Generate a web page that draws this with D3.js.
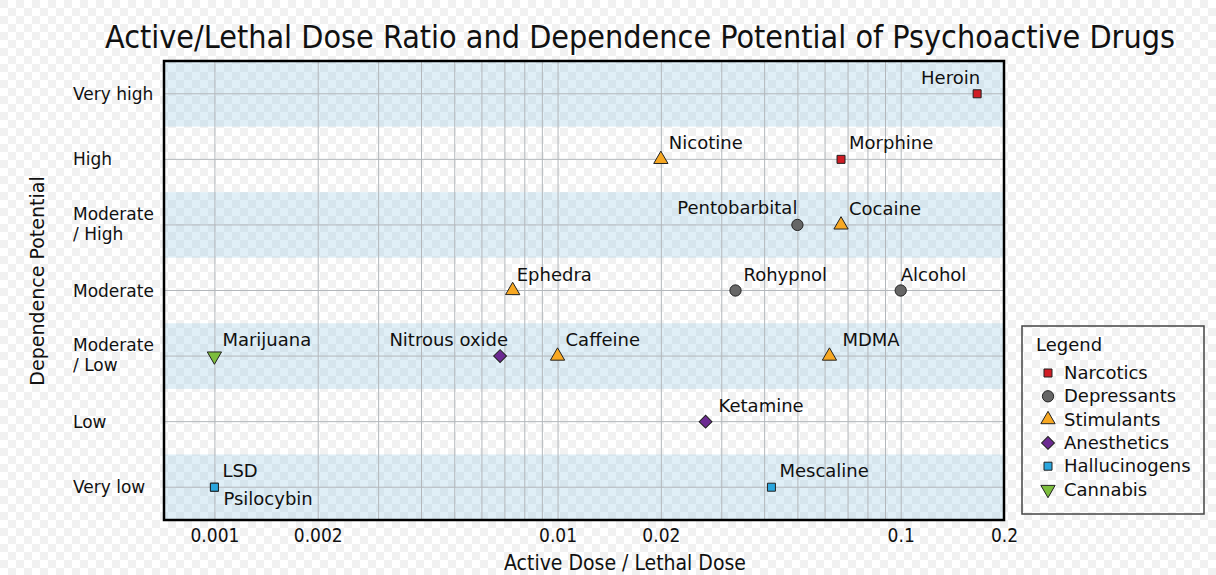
<!DOCTYPE html>
<html>
<head>
<meta charset="utf-8">
<script src="https://cdn.jsdelivr.net/npm/d3@7"></script>
<style>
  body { margin: 0; background: #fff; }
  text { font-family: "DejaVu Sans", sans-serif; fill: #111; }
  .cond { font-family: "DejaVu Sans Condensed", "DejaVu Sans", sans-serif; font-stretch: condensed; }
</style>
</head>
<body>
<div class="chart"></div>
<script>
var svgWidth = 1216;
var svgHeight = 575;

// chart data
var levels = ["Very high", "High", "Moderate / High", "Moderate", "Moderate / Low", "Low", "Very low"];
var classNames = ["Narcotics", "Depressants", "Stimulants", "Anesthetics", "Hallucinogens", "Cannabis"];
var tickLabels = [0.001, 0.002, 0.01, 0.02, 0.1, 0.2];

var drugs = ["Heroin", "Morphine", "Nicotine", "Pentobarbital", "Cocaine", "Ephedra", "Rohypnol", "Alcohol",
  "Marijuana", "Nitrous oxide", "Caffeine", "MDMA", "Ketamine", "LSD", "Psilocybin", "Mescaline"];
var ratios = [0.167, 0.067, 0.02, 0.05, 0.067, 0.0074, 0.033, 0.1,
  0.001, 0.0068, 0.01, 0.062, 0.027, 0.001, 0.001, 0.042];
var dependence = ["Very high", "High", "High", "Moderate / High", "Moderate / High", "Moderate", "Moderate", "Moderate",
  "Moderate / Low", "Moderate / Low", "Moderate / Low", "Moderate / Low", "Low", "Very low", "Very low", "Very low"];
var drugClass = ["Narcotics", "Narcotics", "Stimulants", "Depressants", "Stimulants", "Stimulants", "Depressants", "Depressants",
  "Cannabis", "Anesthetics", "Stimulants", "Stimulants", "Anesthetics", "Hallucinogens", "Hallucinogens", "Hallucinogens"];

// look of each class
var classColor = {
  Narcotics: "#d01c24", Depressants: "#666666", Stimulants: "#f7a823",
  Anesthetics: "#6c2a92", Hallucinogens: "#2aa6de", Cannabis: "#7cbd3c"
};
var classSymbol = {
  Narcotics: { type: d3.symbolSquare, size: 64, rot: 0 },
  Depressants: { type: d3.symbolCircle, size: 100, rot: 0 },
  Stimulants: { type: d3.symbolTriangle, size: 88, rot: 0 },
  Anesthetics: { type: d3.symbolSquare, size: 82, rot: 45 },
  Hallucinogens: { type: d3.symbolSquare, size: 64, rot: 0 },
  Cannabis: { type: d3.symbolTriangle, size: 88, rot: 180 }
};

// label placement (default: upper right of the marker)
var labelPlace = {
  "Heroin": { dx: 3, dy: -10, anchor: "end" },
  "Pentobarbital": { dx: 0, dy: -11, anchor: "end" },
  "Nitrous oxide": { dx: 8, dy: -10, anchor: "end" },
  "Alcohol": { dx: 0, dy: -10, anchor: "start" },
  "MDMA": { dx: 13, dy: -10, anchor: "start" },
  "Ketamine": { dx: 13, dy: -10, anchor: "start" },
  "Ephedra": { dx: 4, dy: -10, anchor: "start" },
  "Psilocybin": { dx: 9, dy: 18, anchor: "start" }
};

var plot = { left: 164, right: 1004, top: 61, bottom: 520 };

var data = drugs.map(function(name, i) {
  return { name: name, ratio: ratios[i], level: dependence[i], cls: drugClass[i] };
});

var svg = d3.select(".chart")
  .append("svg")
  .attr("width", svgWidth)
  .attr("height", svgHeight);

// checkerboard backdrop (transparent-image look)
var defs = svg.append("defs");
var pat = defs.append("pattern")
  .attr("id", "checker")
  .attr("width", 16).attr("height", 16)
  .attr("patternUnits", "userSpaceOnUse");
pat.append("rect").attr("width", 16).attr("height", 16).attr("fill", "#ffffff");
pat.append("rect").attr("width", 8).attr("height", 8).attr("fill", "#f1f1f1");
pat.append("rect").attr("x", 8).attr("y", 8).attr("width", 8).attr("height", 8).attr("fill", "#f1f1f1");

svg.append("rect")
  .attr("width", svgWidth).attr("height", svgHeight)
  .attr("fill", "url(#checker)");

var xScale = d3.scaleLog().domain([0.000713, 0.2]).range([plot.left, plot.right]);
var yScale = d3.scaleBand().domain(levels).range([plot.top, plot.bottom]);
var bw = yScale.bandwidth();
function yMid(level) { return yScale(level) + bw / 2; }

// blue bands on every other level
svg.append("g")
  .selectAll("rect")
  .data(levels.filter(function(d, i) { return i % 2 === 0; }))
  .enter()
  .append("rect")
  .attr("x", plot.left)
  .attr("y", function(d) { return yScale(d); })
  .attr("width", plot.right - plot.left)
  .attr("height", bw)
  .attr("fill", "#8cc4e0")
  .attr("fill-opacity", 0.27);

// vertical grid (from 0.001 up)
var gridTicks = xScale.ticks(10).filter(function(d) { return d >= 0.001; });
var xGrid = svg.append("g")
  .attr("transform", "translate(0," + plot.bottom + ")")
  .call(d3.axisBottom(xScale).tickValues(gridTicks).tickSize(-(plot.bottom - plot.top)).tickFormat(""));
xGrid.select(".domain").remove();
xGrid.selectAll("line").attr("stroke", "#b3b7bb").attr("stroke-width", 1);

// horizontal grid
var yGrid = svg.append("g")
  .attr("transform", "translate(" + plot.left + ",0)")
  .call(d3.axisLeft(yScale).tickSize(-(plot.right - plot.left)).tickFormat(""));
yGrid.select(".domain").remove();
yGrid.selectAll("line").attr("stroke", "#b3b7bb").attr("stroke-width", 1);

// x tick labels
var xAxis = svg.append("g")
  .attr("transform", "translate(0," + plot.bottom + ")")
  .call(d3.axisBottom(xScale).tickValues(tickLabels).tickSize(0).tickPadding(9).tickFormat(d3.format("")));
xAxis.select(".domain").remove();
xAxis.selectAll("text")
  .attr("class", "cond")
  .style("font-size", "19px")
  .attr("fill", "#222");

// y category labels, left aligned, wrapped at " / "
svg.append("g")
  .selectAll("text")
  .data(levels)
  .enter()
  .append("text")
  .attr("x", 73)
  .attr("y", function(d) { return yMid(d); })
  .style("font-size", "17px")
  .attr("fill", "#222")
  .each(function(d) {
    var parts = d.split(" / ");
    var t = d3.select(this);
    if (parts.length === 1) {
      t.append("tspan").attr("x", 73).attr("dy", 6).text(d);
    } else {
      t.append("tspan").attr("x", 73).attr("dy", -5).text(parts[0]);
      t.append("tspan").attr("x", 73).attr("dy", 20).text("/ " + parts[1]);
    }
  });

// points
svg.append("g")
  .selectAll("path")
  .data(data)
  .enter()
  .append("path")
  .attr("d", function(d) {
    var s = classSymbol[d.cls];
    return d3.symbol().type(s.type).size(s.size)();
  })
  .attr("transform", function(d) {
    return "translate(" + xScale(d.ratio) + "," + yMid(d.level) + ") rotate(" + classSymbol[d.cls].rot + ")";
  })
  .attr("fill", function(d) { return classColor[d.cls]; })
  .attr("stroke", "#222")
  .attr("stroke-width", 1);

// point labels
svg.append("g")
  .selectAll("text")
  .data(data)
  .enter()
  .append("text")
  .attr("x", function(d) {
    var p = labelPlace[d.name] || { dx: 8 };
    return xScale(d.ratio) + p.dx;
  })
  .attr("y", function(d) {
    var p = labelPlace[d.name] || { dy: -10 };
    return yMid(d.level) + p.dy;
  })
  .attr("text-anchor", function(d) {
    var p = labelPlace[d.name];
    return p ? p.anchor : "start";
  })
  .style("font-size", "18px")
  .attr("fill", "#222")
  .text(function(d) { return d.name; });

// plot frame
svg.append("rect")
  .attr("x", plot.left)
  .attr("y", plot.top)
  .attr("width", plot.right - plot.left)
  .attr("height", plot.bottom - plot.top)
  .attr("fill", "none")
  .attr("stroke", "#000")
  .attr("stroke-width", 2.5);

// titles
svg.append("text")
  .attr("class", "cond")
  .attr("x", 640)
  .attr("y", 48)
  .attr("text-anchor", "middle")
  .style("font-size", "32px")
  .attr("fill", "#111")
  .text("Active/Lethal Dose Ratio and Dependence Potential of Psychoactive Drugs");

svg.append("text")
  .attr("class", "cond")
  .attr("x", 625)
  .attr("y", 570)
  .attr("text-anchor", "middle")
  .style("font-size", "21px")
  .attr("fill", "#222")
  .text("Active Dose / Lethal Dose");

svg.append("text")
  .attr("transform", "translate(44," + 281 + ") rotate(-90)")
  .attr("text-anchor", "middle")
  .style("font-size", "19px")
  .attr("fill", "#222")
  .text("Dependence Potential");

// legend
var legend = svg.append("g").attr("transform", "translate(1022,326)");
legend.append("rect")
  .attr("width", 182).attr("height", 188)
  .attr("fill", "none")
  .attr("stroke", "#444")
  .attr("stroke-width", 1.5);
legend.append("text")
  .attr("x", 14).attr("y", 25)
  .style("font-size", "18px")
  .attr("fill", "#222")
  .text("Legend");

var items = legend.selectAll(".item")
  .data(classNames)
  .enter()
  .append("g")
  .attr("class", "item")
  .attr("transform", function(d, i) { return "translate(26," + (47 + i * 23.3) + ")"; });
items.append("path")
  .attr("d", function(d) {
    var s = classSymbol[d];
    return d3.symbol().type(s.type).size(s.size)();
  })
  .attr("transform", function(d) { return "rotate(" + classSymbol[d].rot + ")"; })
  .attr("fill", function(d) { return classColor[d]; })
  .attr("stroke", "#222")
  .attr("stroke-width", 1);
items.append("text")
  .attr("x", 16)
  .attr("y", 6)
  .style("font-size", "18px")
  .attr("fill", "#222")
  .text(function(d) { return d; });
</script>
</body>
</html>
